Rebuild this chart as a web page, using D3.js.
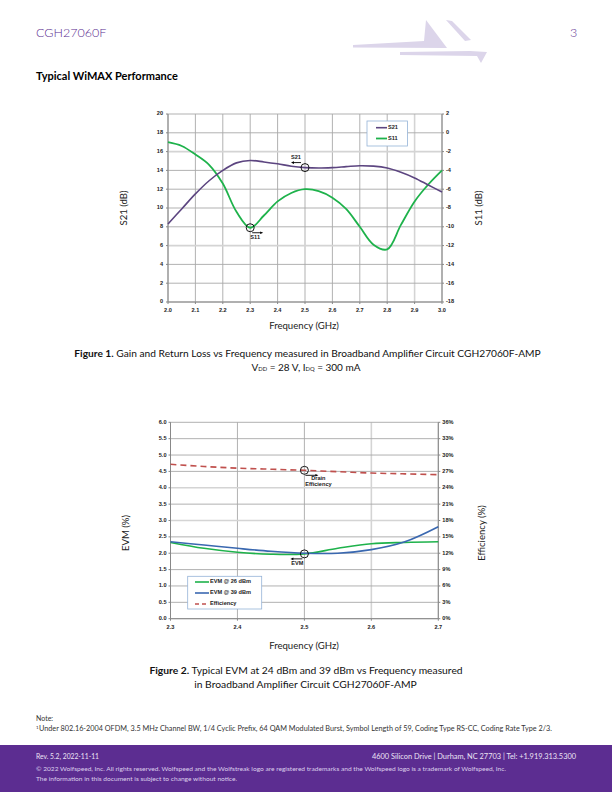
<!DOCTYPE html>
<html><head><meta charset="utf-8">
<script src="https://cdn.jsdelivr.net/npm/d3@7"></script>
<style>
body{margin:0;padding:0;background:#fff;}
svg{display:block;}
</style></head>
<body>
<script>
// ---------- Figure 1 data ----------
const freq1 = [2.0,2.05,2.1,2.15,2.2,2.25,2.3,2.35,2.4,2.45,2.5,2.55,2.6,2.65,2.7,2.75,2.8,2.85,2.9,2.95,3.0];
const s21 = [8.3,9.9,11.5,12.9,14.0,14.8,15.05,14.9,14.7,14.45,14.3,14.25,14.3,14.4,14.5,14.45,14.25,13.8,13.2,12.45,11.7];
const s11 = [-1.0,-1.4,-2.3,-3.4,-5.4,-8.4,-10.1,-8.8,-7.3,-6.4,-6.0,-6.2,-6.9,-8.1,-10.0,-11.9,-12.4,-9.8,-7.3,-5.5,-4.0];
const x1Ticks = ["2.0","2.1","2.2","2.3","2.4","2.5","2.6","2.7","2.8","2.9","3.0"];
const y1LeftTicks = [0,2,4,6,8,10,12,14,16,18,20];
const y1RightTicks = [-18,-16,-14,-12,-10,-8,-6,-4,-2,0,2];

// ---------- Figure 2 data ----------
const freq2 = [2.3,2.35,2.4,2.45,2.5,2.55,2.6,2.65,2.7];
const evm26 = [2.33,2.15,2.03,1.97,1.98,2.15,2.29,2.33,2.35];
const evm39 = [2.35,2.25,2.15,2.06,2.0,2.0,2.11,2.35,2.81];
const eff = [28.3,27.9,27.6,27.4,27.2,26.95,26.7,26.55,26.4];
const x2Ticks = ["2.3","2.4","2.5","2.6","2.7"];
const y2LeftTicks = [0,0.5,1,1.5,2,2.5,3,3.5,4,4.5,5,5.5,6];
const y2RightTicks = [0,3,6,9,12,15,18,21,24,27,30,33,36];

const W=612,H=792;
const svg = d3.select("body").append("svg").attr("width",W).attr("height",H);
const PAGEFONT = "Lato, 'Open Sans', sans-serif";
const TICKFONT = "'Liberation Sans', Arial, sans-serif";
const PURPLE="#5b2d90";

function fitText(sel, x0, x1){
  sel.attr("textLength", x1-x0).attr("lengthAdjust","spacingAndGlyphs");
  return sel;
}

// ---------- header ----------
svg.append("text").attr("x",36).attr("y",37).text("CGH27060F")
  .attr("font-family",PAGEFONT).attr("font-size",12.5).attr("font-weight",300).attr("fill",PURPLE);
svg.append("text").attr("x",570).attr("y",37).text("3")
  .attr("font-family",PAGEFONT).attr("font-size",12.5).attr("font-weight",300).attr("fill",PURPLE);
const logo = svg.append("g").attr("fill","#dcd5ea");
[[[353,45],[424,41],[426,20],[447,48],[353,47.5]],
 [[446,20],[452,21],[471,40],[465,41]],
 [[400,52],[470,51],[487,52],[481,63],[477,56],[400,55]]].forEach(p=>{
  logo.append("polygon").attr("points",p.map(d=>d.join(",")).join(" "));
});
svg.append("text").attr("x",36).attr("y",80).text("Typical WiMAX Performance")
  .attr("font-family",PAGEFONT).attr("font-size",11).attr("font-weight",700).attr("fill","#000");

function tickText(g,x,y,t,anchor){
  return g.append("text").attr("x",x).attr("y",y).text(t).attr("text-anchor",anchor||"middle")
   .attr("font-family",TICKFONT).attr("font-size",5.6).attr("font-weight",700).attr("fill","#222")
   .attr("dominant-baseline","middle");
}

// ---------- Figure 1 ----------
{
  const L=168,R=442,T=114,B=302;
  const x = d3.scaleLinear().domain([2.0,3.0]).range([L,R]);
  const yl = d3.scaleLinear().domain([0,20]).range([B,T]);
  const yr = d3.scaleLinear().domain([-18,2]).range([B,T]);
  const g = svg.append("g");
  x1Ticks.forEach(t=>{
    const v=+t; const light = (t==="2.9");
    g.append("line").attr("x1",x(v)).attr("x2",x(v)).attr("y1",T).attr("y2",B)
     .attr("stroke",light?"#d4d4d4":"#a8a8a8").attr("stroke-width",light?1.6:0.9);
  });
  y1LeftTicks.forEach(v=>{
    const light = (v===16||v===6);
    g.append("line").attr("x1",L).attr("x2",R).attr("y1",yl(v)).attr("y2",yl(v))
     .attr("stroke",light?"#d4d4d4":"#a8a8a8").attr("stroke-width",light?1.6:0.9);
  });
  g.append("line").attr("x1",L).attr("x2",L).attr("y1",T).attr("y2",B).attr("stroke","#888").attr("stroke-width",1);
  g.append("line").attr("x1",R).attr("x2",R).attr("y1",T).attr("y2",B).attr("stroke","#888").attr("stroke-width",1);
  g.append("line").attr("x1",L).attr("x2",R).attr("y1",B).attr("y2",B).attr("stroke","#888").attr("stroke-width",1);
  y1LeftTicks.forEach(v=>{
    g.append("line").attr("x1",L-2).attr("x2",L).attr("y1",yl(v)).attr("y2",yl(v)).attr("stroke","#888");
    tickText(g,L-5,yl(v),String(v),"end");
  });
  y1RightTicks.forEach(v=>{
    g.append("line").attr("x1",R).attr("x2",R+2).attr("y1",yr(v)).attr("y2",yr(v)).attr("stroke","#888");
    tickText(g,R+4,yr(v),String(v),"start");
  });
  x1Ticks.forEach(t=>{
    g.append("line").attr("x1",x(+t)).attr("x2",x(+t)).attr("y1",B).attr("y2",B+2).attr("stroke","#888");
    tickText(g,x(+t),B+9,t);
  });
  const line21 = d3.line().x((d,i)=>x(freq1[i])).y(d=>yl(d)).curve(d3.curveCatmullRom.alpha(0.5));
  const line11 = d3.line().x((d,i)=>x(freq1[i])).y(d=>yr(d)).curve(d3.curveCatmullRom.alpha(0.5));
  g.append("path").attr("d",line11(s11)).attr("fill","none").attr("stroke","#1eb24b").attr("stroke-width",1.8);
  g.append("path").attr("d",line21(s21)).attr("fill","none").attr("stroke","#5c4580").attr("stroke-width",1.6);
  const cx1=x(2.5), cy1=yl(s21[10]);
  g.append("circle").attr("cx",cx1).attr("cy",cy1).attr("r",4).attr("fill","none").attr("stroke","#000").attr("stroke-width",0.9);
  g.append("line").attr("x1",cx1-4).attr("x2",cx1-13).attr("y1",cy1-5).attr("y2",cy1-5).attr("stroke","#000").attr("stroke-width",0.9);
  g.append("path").attr("d",`M${cx1-14},${cy1-5} l3,-1.3 l0,2.6 z`).attr("fill","#000");
  tickText(g,cx1-9,cy1-10,"S21");
  const cx2=x(2.3), cy2=yr(-10.1);
  g.append("circle").attr("cx",cx2).attr("cy",cy2).attr("r",4).attr("fill","none").attr("stroke","#000").attr("stroke-width",0.9);
  g.append("line").attr("x1",cx2+2).attr("x2",cx2+11).attr("y1",cy2+5).attr("y2",cy2+5).attr("stroke","#000").attr("stroke-width",0.9);
  g.append("path").attr("d",`M${cx2+13},${cy2+5} l-3,-1.3 l0,2.6 z`).attr("fill","#000");
  tickText(g,cx2+5,cy2+10,"S11");
  g.append("rect").attr("x",367).attr("y",121).attr("width",40.5).attr("height",25)
   .attr("fill","#fff").attr("stroke","#95b3d7").attr("stroke-width",0.8);
  g.append("line").attr("x1",376).attr("x2",387).attr("y1",127.7).attr("y2",127.7).attr("stroke","#5c4580").attr("stroke-width",1.6);
  tickText(g,388,127.7,"S21","start");
  g.append("line").attr("x1",376).attr("x2",387).attr("y1",138.5).attr("y2",138.5).attr("stroke","#1eb24b").attr("stroke-width",1.8);
  tickText(g,388,138.5,"S11","start");
  svg.append("text").attr("transform","translate(127,208) rotate(-90)").attr("text-anchor","middle")
   .text("S21 (dB)").attr("font-family",PAGEFONT).attr("font-size",9.6).attr("fill","#222");
  svg.append("text").attr("transform","translate(482,208) rotate(-90)").attr("text-anchor","middle")
   .text("S11 (dB)").attr("font-family",PAGEFONT).attr("font-size",9.6).attr("fill","#222");
  svg.append("text").attr("x",304).attr("y",329).attr("text-anchor","middle")
   .text("Frequency (GHz)").attr("font-family",PAGEFONT).attr("font-size",9.6).attr("fill","#222");
  const c1 = svg.append("text").attr("x",307.5).attr("y",357).attr("text-anchor","middle")
   .attr("font-family",PAGEFONT).attr("font-size",10.2).attr("fill","#111");
  c1.append("tspan").attr("font-weight",700).text("Figure 1.");
  c1.append("tspan").text(" Gain and Return Loss vs Frequency measured in Broadband Amplifier Circuit CGH27060F-AMP");
  const c2 = svg.append("text").attr("x",306).attr("y",371).attr("text-anchor","middle")
   .attr("font-family",PAGEFONT).attr("font-size",10).attr("fill","#111");
  c2.append("tspan").text("V");
  c2.append("tspan").attr("font-size",5.8).text("DD");
  c2.append("tspan").text(" = 28 V, I");
  c2.append("tspan").attr("font-size",5.8).text("DQ");
  c2.append("tspan").text(" = 300 mA");
}

// ---------- Figure 2 ----------
{
  const L=170.5,R=438.3,T=422.3,B=618.7;
  const x = d3.scaleLinear().domain([2.3,2.7]).range([L,R]);
  const yl = d3.scaleLinear().domain([0,6]).range([B,T]);
  const yr = d3.scaleLinear().domain([0,36]).range([B,T]);
  const g = svg.append("g");
  x2Ticks.forEach(t=>{
    const light=(t==="2.6");
    g.append("line").attr("x1",x(+t)).attr("x2",x(+t)).attr("y1",T).attr("y2",B)
     .attr("stroke",light?"#d4d4d4":"#a8a8a8").attr("stroke-width",light?1.6:0.9);
  });
  y2LeftTicks.forEach(v=>{
    const light=(v===4||v===3);
    g.append("line").attr("x1",L).attr("x2",R).attr("y1",yl(v)).attr("y2",yl(v))
     .attr("stroke",light?"#d4d4d4":"#a8a8a8").attr("stroke-width",light?1.6:0.9);
  });
  g.append("line").attr("x1",L).attr("x2",L).attr("y1",T).attr("y2",B).attr("stroke","#888");
  g.append("line").attr("x1",R).attr("x2",R).attr("y1",T).attr("y2",B).attr("stroke","#888");
  g.append("line").attr("x1",L).attr("x2",R).attr("y1",B).attr("y2",B).attr("stroke","#888");
  y2LeftTicks.forEach(v=>{
    g.append("line").attr("x1",L-2).attr("x2",L).attr("y1",yl(v)).attr("y2",yl(v)).attr("stroke","#888");
    tickText(g,L-4,yl(v),v.toFixed(1),"end");
  });
  y2RightTicks.forEach(v=>{
    g.append("line").attr("x1",R).attr("x2",R+2).attr("y1",yr(v)).attr("y2",yr(v)).attr("stroke","#888");
    tickText(g,R+4,yr(v),v+"%","start");
  });
  x2Ticks.forEach(t=>{
    g.append("line").attr("x1",x(+t)).attr("x2",x(+t)).attr("y1",B).attr("y2",B+2).attr("stroke","#888");
    tickText(g,x(+t),B+9,t);
  });
  const le = d3.line().x((d,i)=>x(freq2[i])).y(d=>yl(d)).curve(d3.curveCatmullRom.alpha(0.5));
  const lr = d3.line().x((d,i)=>x(freq2[i])).y(d=>yr(d)).curve(d3.curveCatmullRom.alpha(0.5));
  g.append("path").attr("d",lr(eff)).attr("fill","none").attr("stroke","#c0504d").attr("stroke-width",1.6).attr("stroke-dasharray","6,4");
  g.append("path").attr("d",le(evm26)).attr("fill","none").attr("stroke","#1eb24b").attr("stroke-width",1.6);
  g.append("path").attr("d",le(evm39)).attr("fill","none").attr("stroke","#3a68b0").attr("stroke-width",1.6);
  const ex=x(2.5), ey=yr(eff[4]);
  g.append("circle").attr("cx",ex).attr("cy",ey).attr("r",4).attr("fill","none").attr("stroke","#000").attr("stroke-width",0.9);
  g.append("line").attr("x1",ex+1).attr("x2",ex+12).attr("y1",ey+5).attr("y2",ey+5).attr("stroke","#000").attr("stroke-width",0.9);
  g.append("path").attr("d",`M${ex+14},${ey+5} l-3,-1.3 l0,2.6 z`).attr("fill","#000");
  tickText(g,ex+14,ey+8.5,"Drain");
  tickText(g,ex+14,ey+14,"Efficiency");
  const vx=x(2.5), vy=yl(1.98);
  g.append("circle").attr("cx",vx).attr("cy",vy).attr("r",4).attr("fill","none").attr("stroke","#000").attr("stroke-width",0.9);
  g.append("line").attr("x1",vx-2).attr("x2",vx-12).attr("y1",vy+5).attr("y2",vy+5).attr("stroke","#000").attr("stroke-width",0.9);
  g.append("path").attr("d",`M${vx-14},${vy+5} l3,-1.3 l0,2.6 z`).attr("fill","#000");
  tickText(g,vx-7,vy+9.5,"EVM");
  g.append("rect").attr("x",187.7).attr("y",576.3).attr("width",74).attr("height",32.7)
   .attr("fill","#fff").attr("stroke","#95b3d7").attr("stroke-width",0.8);
  const leg=[["EVM @ 26 dBm","#1eb24b",null,582],["EVM @ 39 dBm","#3a68b0",null,593],["Efficiency","#c0504d","4,3",604]];
  leg.forEach(([t,c,da,yy])=>{
    const ln=g.append("line").attr("x1",195).attr("x2",209).attr("y1",yy).attr("y2",yy).attr("stroke",c).attr("stroke-width",1.6);
    if(da) ln.attr("stroke-dasharray",da);
    tickText(g,210,yy,t,"start");
  });
  svg.append("text").attr("transform","translate(129,533) rotate(-90)").attr("text-anchor","middle")
   .text("EVM (%)").attr("font-family",PAGEFONT).attr("font-size",9.6).attr("fill","#222");
  svg.append("text").attr("transform","translate(485,533) rotate(-90)").attr("text-anchor","middle")
   .text("Efficiency (%)").attr("font-family",PAGEFONT).attr("font-size",9.6).attr("fill","#222");
  svg.append("text").attr("x",304).attr("y",649).attr("text-anchor","middle")
   .text("Frequency (GHz)").attr("font-family",PAGEFONT).attr("font-size",9.6).attr("fill","#222");
  const c1 = svg.append("text").attr("x",306).attr("y",674).attr("text-anchor","middle")
   .attr("font-family",PAGEFONT).attr("font-size",10.3).attr("fill","#111");
  c1.append("tspan").attr("font-weight",700).text("Figure 2.");
  c1.append("tspan").text(" Typical EVM at 24 dBm and 39 dBm vs Frequency measured");
  svg.append("text").attr("x",305.5).attr("y",688).attr("text-anchor","middle")
   .attr("font-family",PAGEFONT).attr("font-size",10.3).attr("fill","#111")
   .text("in Broadband Amplifier Circuit CGH27060F-AMP");
}

// ---------- note ----------
svg.append("text").attr("x",36).attr("y",721).text("Note:")
  .attr("font-family",PAGEFONT).attr("font-size",7).attr("fill","#333");
svg.append("text").attr("x",36).attr("y",729).text("1")
  .attr("font-family",PAGEFONT).attr("font-size",4.5).attr("fill","#333");
fitText(svg.append("text").attr("x",39).attr("y",731)
  .attr("font-family",PAGEFONT).attr("font-size",7).attr("fill","#333")
  .text("Under 802.16-2004 OFDM, 3.5 MHz Channel BW, 1/4 Cyclic Prefix, 64 QAM Modulated Burst, Symbol Length of 59, Coding Type RS-CC, Coding Rate Type 2/3."),39,552);

// ---------- footer ----------
svg.append("rect").attr("x",0).attr("y",745).attr("width",W).attr("height",47).attr("fill","#5c2d91");
fitText(svg.append("text").attr("x",36).attr("y",759).text("Rev. 5.2, 2022-11-11")
  .attr("font-family",PAGEFONT).attr("font-size",7).attr("fill","#ece4f5"),36,99);
fitText(svg.append("text").attr("x",372).attr("y",759)
  .text("4600 Silicon Drive  |  Durham, NC 27703  |  Tel: +1.919.313.5300")
  .attr("font-family",PAGEFONT).attr("font-size",7).attr("fill","#ece4f5"),372,576);
fitText(svg.append("text").attr("x",36).attr("y",771)
  .text("© 2022 Wolfspeed, Inc. All rights reserved. Wolfspeed    and the Wolfstreak logo are registered trademarks and the Wolfspeed logo is a trademark of Wolfspeed, Inc.")
  .attr("font-family",PAGEFONT).attr("font-size",6).attr("fill","#dcd0ec"),36,506);
fitText(svg.append("text").attr("x",36).attr("y",781)
  .text("The information in this document is subject to change without notice.")
  .attr("font-family",PAGEFONT).attr("font-size",6).attr("fill","#dcd0ec"),36,237);
</script>
</body></html>
